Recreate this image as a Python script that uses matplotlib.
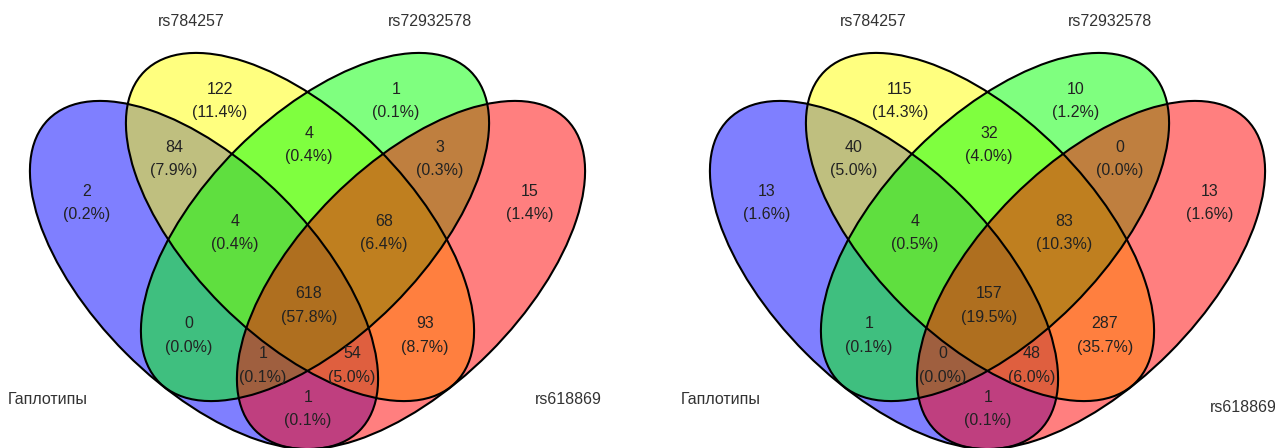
import matplotlib
matplotlib.use("Agg")
import matplotlib.pyplot as plt
from matplotlib.patches import Ellipse

plt.rcParams['font.family'] = ['Liberation Sans', 'DejaVu Sans']

# region order: which of (A, B, C, D) the region belongs to
regions = ['1000', '0100', '0010', '0001', '1100', '0110', '0011', '1110',
           '0111', '1111', '1010', '0101', '1011', '1101', '1001']
set_names = ['Гаплотипы', 'rs784257', 'rs72932578', 'rs618869']

counts_left = [2, 122, 1, 15, 84, 4, 3, 4, 68, 618, 0, 93, 1, 54, 1]
counts_right = [13, 115, 10, 13, 40, 32, 0, 4, 83, 157, 1, 287, 0, 48, 1]

colors = ['#0000ff', '#ffff00', '#00ff00', '#ff0000']

# ellipse layout inside one panel (pixels)
ell_centers = [(204, 275), (300, 227), (315, 227), (411, 275)]
ell_angles = [45, 45, -45, -45]
ell_w, ell_h = 440, 221

label_pos = {
    '1000': (87, 191), '0100': (220, 89), '0010': (396, 89), '0001': (530, 191),
    '1100': (174, 147), '0110': (309, 133), '0011': (440, 147),
    '1110': (235, 221), '0111': (384, 221), '1111': (309, 294),
    '1010': (189, 324), '0101': (425, 324), '1011': (263, 354),
    '1101': (352, 354), '1001': (308, 397),
}


def draw_venn(ax, x0, counts, name_pos):
    total = sum(counts)
    for (cx, cy), ang, col in zip(ell_centers, ell_angles, colors):
        ax.add_patch(Ellipse((x0 + cx, cy), ell_w, ell_h, angle=ang,
                             facecolor=col, alpha=0.5, edgecolor='none'))
    for (cx, cy), ang in zip(ell_centers, ell_angles):
        ax.add_patch(Ellipse((x0 + cx, cy), ell_w, ell_h, angle=ang,
                             fill=False, edgecolor='black', linewidth=1.5))
    for key, n in zip(regions, counts):
        x, y = label_pos[key]
        ax.text(x0 + x, y, str(n), ha='center', va='center',
                fontsize=11.5, color='#222222')
        ax.text(x0 + x, y + 23.5, f'({100 * n / total:.1f}%)', ha='center',
                va='center', fontsize=11.5, color='#222222')
    for name, (x, y, ha) in zip(set_names, name_pos):
        ax.text(x0 + x, y, name, ha=ha, va='center', fontsize=11.5,
                color='#333333')


fig = plt.figure(figsize=(12.75, 4.48), dpi=100)
ax = fig.add_axes([0, 0, 1, 1])
ax.set_xlim(0, 1275)
ax.set_ylim(448, 0)
ax.axis('off')

draw_venn(ax, 0, counts_left,
          [(8, 400, 'left'), (191, 22, 'center'), (430, 22, 'center'),
           (535, 400, 'left')])
draw_venn(ax, 680, counts_right,
          [(1, 400, 'left'), (193, 22, 'center'), (430, 22, 'center'),
           (530, 408, 'left')])

fig.savefig('out.png', dpi=100)
